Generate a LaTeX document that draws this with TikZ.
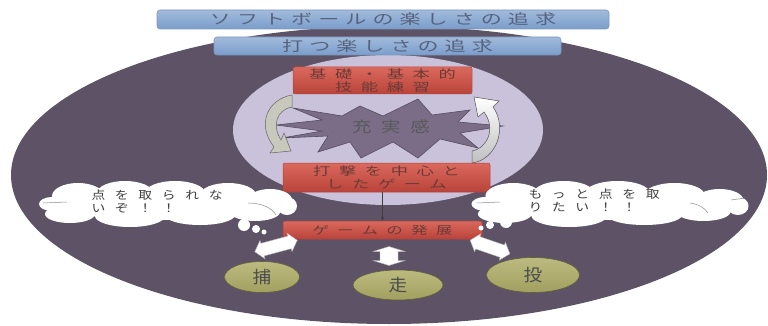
\documentclass[tikz,border=0pt]{standalone}
\usepackage{fontspec}
\newfontfamily\jpbar[LetterSpace=29]{Noto Sans CJK JP}
\newfontfamily\jpbox[LetterSpace=50]{Noto Sans CJK JP}
\newfontfamily\jpcloud[LetterSpace=70]{Noto Sans CJK JP}
\newfontfamily\jpstar[LetterSpace=49]{Noto Sans CJK JP}
\newfontfamily\jpplain{Noto Sans CJK JP}
\usetikzlibrary{shapes.geometric,arrows.meta}
\newcommand\widetxt[2][1.5]{\scalebox{#1}[1]{#2}}
% white cloud built from overlapping puffs, centred on the origin
\newcommand\puffcloud{%
  \fill[white] (0,0) ellipse [x radius=112, y radius=15];
  \fill[white] (-90,-9) ellipse [x radius=26, y radius=13];
  \fill[white] (-43,-12) ellipse [x radius=28, y radius=12];
  \fill[white] (7,-12) ellipse [x radius=30, y radius=12];
  \fill[white] (60,-10) ellipse [x radius=28, y radius=12];
  \fill[white] (102,-5) ellipse [x radius=22, y radius=11];
  \fill[white] (-98,9) ellipse [x radius=25, y radius=9];
  \fill[white] (-38,11) ellipse [x radius=35, y radius=11];
  \fill[white] (32,10) ellipse [x radius=35, y radius=10];
  \fill[white] (87,7) ellipse [x radius=25, y radius=9];
  \fill[white] (-116,-1) ellipse [x radius=13, y radius=7];
  \fill[white] (119,1) ellipse [x radius=10, y radius=9];
}
% two-headed block arrow: length, head width, shaft width, head length
\newcommand\twowayarrow[4]{%
  \filldraw[fill=white, draw=black!30, line width=0.4pt]
    (-#1/2,0) -- (-#1/2+#4,#2/2) -- (-#1/2+#4,#3/2) -- (#1/2-#4,#3/2)
    -- (#1/2-#4,#2/2) -- (#1/2,0) -- (#1/2-#4,-#2/2) -- (#1/2-#4,-#3/2)
    -- (-#1/2+#4,-#3/2) -- (-#1/2+#4,-#2/2) -- cycle;
}

\definecolor{fieldc}{HTML}{5E5266}
\definecolor{innerc}{HTML}{C9C2DA}
\definecolor{barc}{HTML}{7A9DCB}
\definecolor{bardark}{HTML}{5C7FB0}
\definecolor{bartext}{HTML}{55627E}
\definecolor{boxc}{HTML}{D65447}
\definecolor{boxdark}{HTML}{B8433A}
\definecolor{boxtext}{HTML}{6B3A36}
\definecolor{starc}{HTML}{7B6D88}
\definecolor{olivec}{HTML}{B0AE68}
\definecolor{arrowgray}{HTML}{C8C8BC}

\begin{document}
\begin{tikzpicture}[x=1pt,y=-1pt,
  bar/.style={draw=bardark!80, line width=0.6pt, rounded corners=3pt,
    top color=barc!70!white, bottom color=barc, inner sep=0pt,
    font=\jpbar\fontsize{14}{14}\selectfont, text=bartext},
  redbox/.style={draw=boxdark, line width=0.5pt, rounded corners=2pt,
    top color=boxc!88!white, bottom color=boxdark, inner sep=0pt,
    text=boxtext, align=center, font=\jpbox\fontsize{11.5}{13}\selectfont},
  olive/.style={ellipse, draw=olivec!55!black, line width=0.6pt,
    top color=olivec!85!white, bottom color=olivec!92!black, inner sep=0pt,
    text=black!70, font=\jpplain\fontsize{17}{17}\selectfont},
  bubble/.style={circle, fill=white, inner sep=0pt},
  cloudtext/.style={align=left, anchor=west, text=black!75,
    font=\jpcloud\fontsize{11.5}{13}\selectfont},
  puffline/.style={draw=black!45, line width=0.5pt}
]
\useasboundingbox (0,0) rectangle (768,326);

% field and inner circle
\node[ellipse, fill=fieldc, minimum width=756pt, minimum height=298pt, inner sep=0pt] (field) at (389,175) {};
\node[ellipse, fill=innerc, minimum width=310pt, minimum height=150pt, inner sep=0pt] (core) at (388,130) {};

% burst in the middle
\filldraw[fill=starc, draw=starc!70!black, line width=0.6pt, line join=miter]
  (276,125) -- (322,120) -- (293,108) -- (342,116) -- (360,106) -- (383,116)
  -- (418,99) -- (432,115) -- (470,110) -- (458,122) -- (503,126)
  -- (460,133) -- (478,148) -- (440,139) -- (418,158) -- (393,142)
  -- (361,158) -- (350,142) -- (318,152) -- (328,136) -- (282,138)
  -- (322,131) -- cycle;
\node[font=\jpstar\fontsize{15}{15}\selectfont, text=black!65] (feel) at (391,127) {\widetxt[1.3]{充実感}};

% headline bars
\node[bar, minimum width=452pt, minimum height=19pt] (goal) at (383,19.5) {\widetxt{ソフトボールの楽しさの追求}};
\node[bar, minimum width=347pt, minimum height=18pt] (hit) at (387.5,46) {\widetxt{打つ楽しさの追求}};

% red boxes
\node[redbox, minimum width=179pt, minimum height=27pt] (basic) at (382.5,80.5) {\widetxt{基礎・基本的}\\\widetxt{技能練習}};
\node[redbox, minimum width=207pt, minimum height=29pt] (game) at (386.5,177.5) {\widetxt{打撃を中心と}\\\widetxt{したゲーム}};
\node[redbox, minimum width=199pt, minimum height=18pt, font=\jpbox\fontsize{11}{11}\selectfont] (dev) at (382.5,230) {\widetxt{ゲームの発展}};

% cycle arrows
\filldraw[fill=arrowgray, draw=black!60, line width=0.5pt]
  (292,95) .. controls (268,99) and (256,124) .. (274,147)
  -- (270,153) -- (291,151) -- (284,133) -- (281,140)
  .. controls (272,126) and (276,110) .. (292,107) -- cycle;
\filldraw[top color=white, bottom color=black!25, draw=black!60, line width=0.5pt]
  (472,163) .. controls (496,160) and (508,128) .. (493,107)
  -- (499,101) -- (474,97) -- (478,117) -- (484,112)
  .. controls (496,128) and (488,148) .. (472,151) -- cycle;

% link down to the game box
\draw[-{Stealth[length=4pt,width=3pt]}, line width=0.5pt, black!75] (dev.north |- game.south) -- (dev.north);

% thought clouds
\begin{scope}[shift={(168,205)}]
  \puffcloud
\end{scope}
\begin{scope}[shift={(610,205)}, xscale=1.074]
  \puffcloud
\end{scope}
\node[bubble, minimum size=12pt] (bL1) at (244,225) {};
\node[bubble, minimum size=8pt] (bL2) at (256,229) {};
\node[bubble, minimum size=5pt] (bL3) at (264,232) {};
\node[bubble, minimum size=12pt] (bR1) at (506,222) {};
\node[bubble, minimum size=8pt] (bR2) at (490,225) {};
\node[bubble, minimum size=5pt] (bR3) at (481,228) {};
\draw[puffline] (43,203) -- (67,202);
\draw[puffline] (248,203) .. controls (262,203) and (272,208) .. (276,215);
\draw[puffline] (477,203) -- (500,202);
\draw[puffline] (690,203) .. controls (698,204) and (705,208) .. (708,213);
\draw[puffline] (731,200) -- (745,198);
\node[cloudtext] (sayL) at (88,201) {\widetxt[1.2]{点を取られな}\\\widetxt[1.2]{いぞ！！}};
\node[cloudtext] (sayR) at (525,200) {\widetxt[1.2]{もっと点を取}\\\widetxt[1.2]{りたい！！}};

% two-way arrows to the three skills
\begin{scope}[shift={(276,246)}, rotate=15]
  \twowayarrow{44}{19}{13}{8}
\end{scope}
\begin{scope}[shift={(389,256)}, rotate=90]
  \twowayarrow{19}{32}{18}{5}
\end{scope}
\begin{scope}[shift={(490,247)}, rotate=-19]
  \twowayarrow{42}{19}{13}{8}
\end{scope}

% skills
\node[olive, minimum width=75pt, minimum height=31pt] (catch) at (262,277) {\widetxt[1.1]{捕}};
\node[olive, minimum width=90pt, minimum height=30pt] (run) at (398,285) {\widetxt[1.1]{走}};
\node[olive, minimum width=93pt, minimum height=35pt] (throw) at (533,275) {\widetxt[1.1]{投}};
\end{tikzpicture}
\end{document}
